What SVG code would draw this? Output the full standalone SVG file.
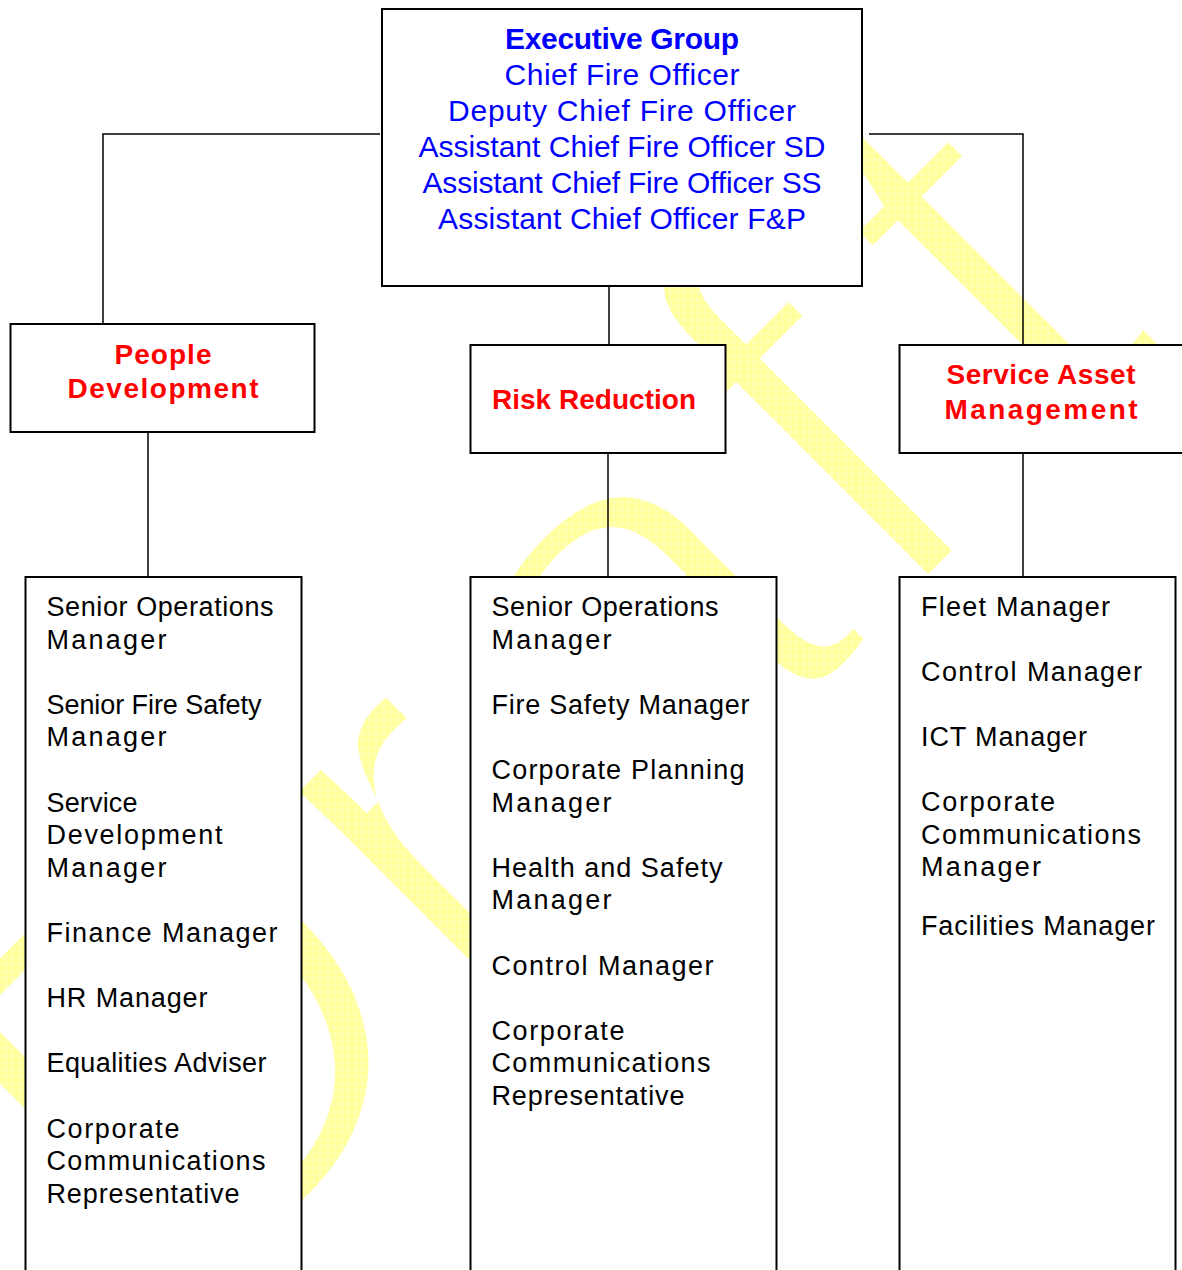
<svg xmlns="http://www.w3.org/2000/svg" width="1182" height="1270" viewBox="0 0 1182 1270">
<style>
.box{fill:#fff;stroke:#000;stroke-width:2}
.conn{fill:none;stroke:#000;stroke-width:1.5}
.exec{font-family:"Liberation Sans",Arial,sans-serif;font-size:30px;fill:#0000FF;text-anchor:middle}
.execb{font-weight:bold}
.title{font-family:"Liberation Sans",Arial,sans-serif;font-size:28px;font-weight:bold;fill:#FF0000;text-anchor:middle}
.item{font-family:"Liberation Sans",Arial,sans-serif;font-size:27px;fill:#000}
.wm{font-family:"Liberation Sans",Arial,sans-serif;font-size:585px;fill:url(#wmfill);stroke:#fff;stroke-width:18;text-anchor:middle}
</style>
<defs>
<pattern id="wmfill" patternUnits="userSpaceOnUse" width="7" height="7" patternTransform="rotate(45)">
<rect width="7" height="7" fill="#FFFFAE"/>
<path d="M0 0.5H7M0.5 0V7" stroke="#FFFF8A" stroke-width="1"/>
</pattern>
</defs>
<rect width="1182" height="1270" fill="#fff"/>
<g id="watermark" transform="translate(757.5,757.5) rotate(-45)">
<text class="wm" x="-612" y="0">D</text>
<text class="wm" x="-299" y="0">r</text>
<text class="wm" x="5" y="0">a</text>
<text class="wm" x="271" y="0">f</text>
<text class="wm" x="507" y="0">t</text>
</g>
<g id="connectors">
<path class="conn" d="M380 134H103V324"/>
<path class="conn" d="M869 134H1023V345"/>
<path class="conn" d="M609 286V345"/>
<path class="conn" d="M148 428V577"/>
<path class="conn" d="M608 450V581"/>
<path class="conn" d="M1023 450V577"/>
</g>
<g id="executive">
<rect class="box" x="382" y="9" width="480" height="277"/>
<text class="exec execb" x="622" y="49" textLength="234">Executive Group</text>
<text class="exec" x="622" y="85" textLength="235">Chief Fire Officer</text>
<text class="exec" x="622" y="121" textLength="348">Deputy Chief Fire Officer</text>
<text class="exec" x="622" y="157" textLength="407">Assistant Chief Fire Officer SD</text>
<text class="exec" x="622" y="193" textLength="399">Assistant Chief Fire Officer SS</text>
<text class="exec" x="622" y="229" textLength="368">Assistant Chief Officer F&amp;P</text>
</g>
<g id="people-development">
<rect class="box" x="10.5" y="324" width="304" height="108"/>
<text class="title" x="163" y="364" textLength="97">People</text>
<text class="title" x="163" y="398" textLength="191">Development</text>
</g>
<g id="risk-reduction">
<rect class="box" x="470.5" y="345" width="255" height="108"/>
<text class="title" x="594" y="409" textLength="204">Risk Reduction</text>
</g>
<g id="service-asset-management">
<rect class="box" x="899.5" y="345" width="290" height="108"/>
<text class="title" x="1041" y="384" textLength="189">Service Asset</text>
<text class="title" x="1041" y="419" textLength="193">Management</text>
</g>
<g id="people-development-staff">
<rect class="box" x="25.5" y="577" width="276" height="710"/>
<text class="item" x="46.5" y="616" textLength="227">Senior Operations</text>
<text class="item" x="46.5" y="648.6" textLength="120">Manager</text>
<text class="item" x="46.5" y="713.8" textLength="215">Senior Fire Safety</text>
<text class="item" x="46.5" y="746.4" textLength="120">Manager</text>
<text class="item" x="46.5" y="811.6" textLength="91">Service</text>
<text class="item" x="46.5" y="844.2" textLength="176">Development</text>
<text class="item" x="46.5" y="876.8" textLength="120">Manager</text>
<text class="item" x="46.5" y="942" textLength="231">Finance Manager</text>
<text class="item" x="46.5" y="1007.2" textLength="161">HR Manager</text>
<text class="item" x="46.5" y="1072.4" textLength="220">Equalities Adviser</text>
<text class="item" x="46.5" y="1137.6" textLength="133">Corporate</text>
<text class="item" x="46.5" y="1170.2" textLength="219">Communications</text>
<text class="item" x="46.5" y="1202.8" textLength="193">Representative</text>
</g>
<g id="risk-reduction-staff">
<rect class="box" x="470.5" y="577" width="306" height="710"/>
<text class="item" x="491.5" y="616" textLength="227">Senior Operations</text>
<text class="item" x="491.5" y="648.6" textLength="120">Manager</text>
<text class="item" x="491.5" y="713.8" textLength="258">Fire Safety Manager</text>
<text class="item" x="491.5" y="779" textLength="253">Corporate Planning</text>
<text class="item" x="491.5" y="811.6" textLength="120">Manager</text>
<text class="item" x="491.5" y="876.8" textLength="231">Health and Safety</text>
<text class="item" x="491.5" y="909.4" textLength="120">Manager</text>
<text class="item" x="491.5" y="974.6" textLength="222">Control Manager</text>
<text class="item" x="491.5" y="1039.8" textLength="133">Corporate</text>
<text class="item" x="491.5" y="1072.4" textLength="219">Communications</text>
<text class="item" x="491.5" y="1105" textLength="193">Representative</text>
</g>
<g id="service-asset-staff">
<rect class="box" x="899.5" y="577" width="276" height="710"/>
<text class="item" x="921" y="616" textLength="189">Fleet Manager</text>
<text class="item" x="921" y="681" textLength="221">Control Manager</text>
<text class="item" x="921" y="746" textLength="166">ICT Manager</text>
<text class="item" x="921" y="811" textLength="134">Corporate</text>
<text class="item" x="921" y="843.5" textLength="220">Communications</text>
<text class="item" x="921" y="876" textLength="120">Manager</text>
<text class="item" x="921" y="935" textLength="234">Facilities Manager</text>
</g>
</svg>
